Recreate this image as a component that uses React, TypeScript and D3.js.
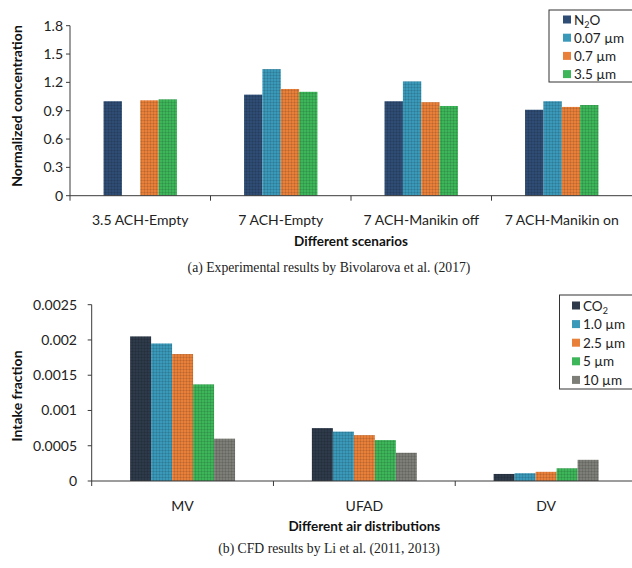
import React from "react";
import * as d3 from "d3";

// (a) experimental results
const scenarios = ["3.5 ACH-Empty", "7 ACH-Empty", "7 ACH-Manikin off", "7 ACH-Manikin on"];
const tracersA = ["N2O", "0.07 µm", "0.7 µm", "3.5 µm"];
const n2o = [1.0, 1.07, 1.0, 0.91];
const um007 = [0, 1.34, 1.21, 1.0];
const um07 = [1.01, 1.13, 0.99, 0.94];
const um35 = [1.02, 1.1, 0.95, 0.96];
const ticksA = [0, 0.3, 0.6, 0.9, 1.2, 1.5, 1.8];

// (b) CFD results
const distributions = ["MV", "UFAD", "DV"];
const tracersB = ["CO2", "1.0 µm", "2.5 µm", "5 µm", "10 µm"];
const co2 = [0.00205, 0.00075, 0.0001];
const um1 = [0.00195, 0.0007, 0.00011];
const um25 = [0.0018, 0.00065, 0.00013];
const um5 = [0.00137, 0.00058, 0.00018];
const um10 = [0.0006, 0.0004, 0.0003];
const ticksB = [0, 0.0005, 0.001, 0.0015, 0.002, 0.0025];

const colorsA = ["#2f4d74", "#3a98b9", "#e8803a", "#3db65a"];
const colorsB = ["#2e3a4a", "#3a98b9", "#e8803a", "#3db65a", "#7e7e78"];

const sans = "Lato, 'Open Sans', sans-serif";
const serif = "'Liberation Serif', 'DejaVu Serif', serif";

// chemical names get their digits as subscripts
const Label = ({ name }) => {
  if (!/^[A-Z]/.test(name)) return <>{name}</>;
  const parts = name.match(/[A-Z]+|\d+/g) || [];
  let sub = false;
  return (
    <>
      {parts.map((p, i) => {
        const isNum = /\d/.test(p);
        const dy = isNum && !sub ? 3 : !isNum && sub ? -3 : 0;
        sub = isNum;
        return (
          <tspan key={i} dy={dy} fontSize={isNum ? 9 : undefined}>{p}</tspan>
        );
      })}
    </>
  );
};

const Panel = ({ categories, names, values, colors, ticks, left, right, axisEnd, top, zero,
  tickRight, yTitle, yTitleX, yTitleY, xTitle, xTitleY, labelY, legend, caption, captionY }) => {
  const x = d3.scaleBand().domain(categories).range([left, right]).paddingInner(0).paddingOuter(0);
  const xs = d3.scaleBand().domain(names).range([0, x.bandwidth()]).paddingInner(0).paddingOuter(1.83);
  const y = d3.scaleLinear().domain([0, ticks[ticks.length - 1]]).range([zero, top]);
  const bounds = [left, ...categories.map(c => x(c) + x.bandwidth())];

  return (
    <g>
      {names.map((n, s) =>
        categories.map((c, i) => {
          const v = values[s][i];
          if (!v) return null;
          const bx = x(c) + xs(n);
          return (
            <g key={n + c}>
              <rect x={bx} y={y(v)} width={xs.bandwidth()} height={zero - y(v)} fill={colors[s]} />
              <rect x={bx} y={y(v)} width={xs.bandwidth()} height={zero - y(v)} fill="url(#grid)" />
            </g>
          );
        })
      )}
      <line x1={left} x2={left} y1={top} y2={zero} stroke="#3a3a3a" />
      <line x1={left} x2={axisEnd} y1={zero} y2={zero} stroke="#3a3a3a" />
      {ticks.map(t => (
        <g key={t}>
          <line x1={left - 4} x2={left} y1={y(t)} y2={y(t)} stroke="#3a3a3a" />
          <text x={tickRight} y={y(t) + 5} textAnchor="end" fontSize="14" fill="#222">{String(t)}</text>
        </g>
      ))}
      {bounds.filter(b => b < axisEnd).map(b => (
        <line key={b} x1={b} x2={b} y1={zero} y2={zero + 5} stroke="#3a3a3a" />
      ))}
      {categories.map(c => (
        <text key={c} x={x(c) + x.bandwidth() / 2} y={labelY} textAnchor="middle" fontSize="14" fill="#222">{c}</text>
      ))}
      <text x={(left + right) / 2} y={xTitleY} textAnchor="middle" fontSize="13.5" fontWeight="bold" fill="#111">{xTitle}</text>
      <text transform={`translate(${yTitleX},${yTitleY}) rotate(-90)`} textAnchor="middle" fontSize="14" fontWeight="bold" fill="#111">{yTitle}</text>
      <rect x={legend.x} y={legend.y} width={legend.w} height={legend.h} fill="white" stroke="#333" />
      {names.map((n, s) => {
        const cy = legend.y + legend.first + s * legend.step;
        return (
          <g key={n}>
            <rect x={legend.x + legend.pad} y={cy - 4} width={8} height={8} fill={colors[s]} />
            <text x={legend.x + legend.pad + 11} y={cy + 5} fontSize="13.5" fill="#222"><Label name={n} /></text>
          </g>
        );
      })}
      <text x={329} y={captionY} textAnchor="middle" fontFamily={serif} fontSize="13.7" fill="#222">{caption}</text>
    </g>
  );
};

export default function App() {
  return (
    <svg width={632} height={568} style={{ position: "absolute", left: 0, top: 0 }} fontFamily={sans}>
      <defs>
        <pattern id="grid" width="3" height="3" patternUnits="userSpaceOnUse">
          <rect width="3" height="1" fill="#000" opacity="0.1" />
          <rect width="1" height="3" fill="#000" opacity="0.1" />
        </pattern>
      </defs>
      <rect width={632} height={568} fill="white" />
      <Panel
        categories={scenarios}
        names={tracersA}
        values={[n2o, um007, um07, um35]}
        colors={colorsA}
        ticks={ticksA}
        left={70}
        right={632}
        axisEnd={632}
        top={25.7}
        zero={195.7}
        tickRight={63}
        yTitle="Normalized concentration"
        yTitleX={21.5}
        yTitleY={106}
        xTitle="Different scenarios"
        xTitleY={246}
        labelY={225}
        legend={{ x: 549, y: 10, w: 90, h: 72, pad: 14, first: 9.5, step: 18.2 }}
        caption="(a) Experimental results by Bivolarova et al. (2017)"
        captionY={272}
      />
      <Panel
        categories={distributions}
        names={tracersB}
        values={[co2, um1, um25, um5, um10]}
        colors={colorsB}
        ticks={ticksB}
        left={91.7}
        right={637}
        axisEnd={632}
        top={304.7}
        zero={481}
        tickRight={77}
        yTitle="Intake fraction"
        yTitleX={22}
        yTitleY={396}
        xTitle="Different air distributions"
        xTitleY={531}
        labelY={511}
        legend={{ x: 559.5, y: 295, w: 90, h: 94, pad: 12.5, first: 10.5, step: 18.6 }}
        caption="(b) CFD results by Li et al. (2011, 2013)"
        captionY={553}
      />
    </svg>
  );
}
